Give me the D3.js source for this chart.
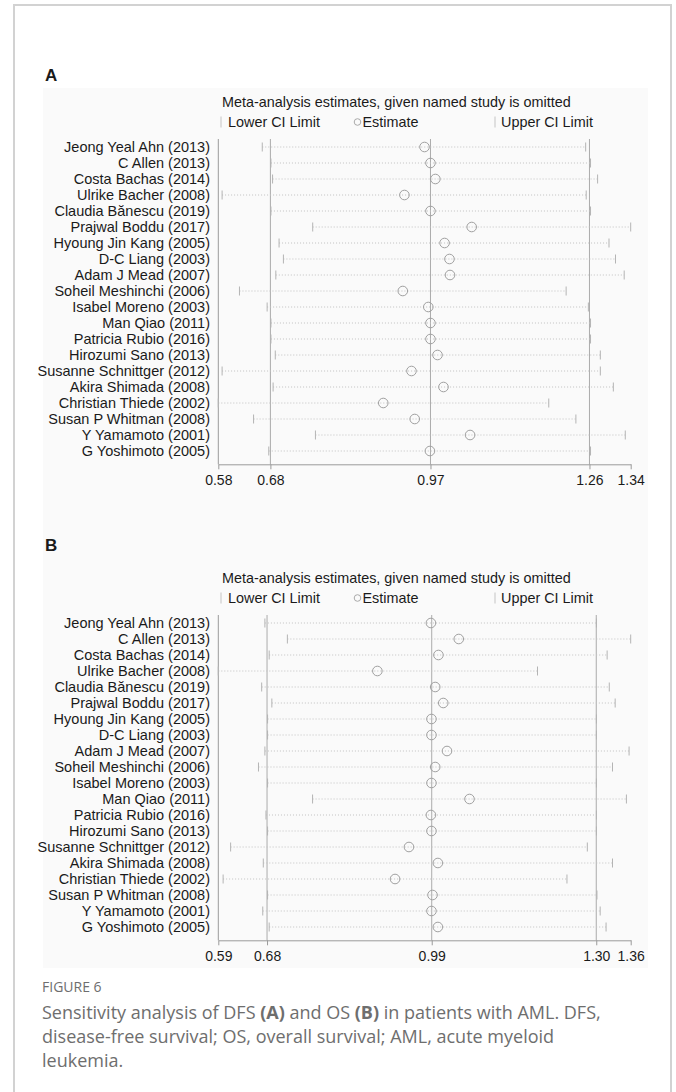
<!DOCTYPE html>
<html lang="en">
<head>
<meta charset="utf-8">
<title>Figure 6</title>
<style>
  body { margin: 0; background: #fff; }
  svg text { font-family: "Liberation Sans", Arial, sans-serif; fill: #1a1a1a; }
  .caption text { font-family: "Open Sans", sans-serif; fill: #6e6e6e; }
  .axis path, .axis line { stroke: #9a9a9a; }
  .axis text { font-size: 14px; }
</style>
</head>
<body>
<svg id="fig" width="676" height="1092"></svg>
<script src="https://d3js.org/d3.v7.min.js"></script>
<script>
// study names (same order in both panels)
var studies = [
  "Jeong Yeal Ahn (2013)", "C Allen (2013)", "Costa Bachas (2014)", "Ulrike Bacher (2008)",
  "Claudia Bănescu (2019)", "Prajwal Boddu (2017)", "Hyoung Jin Kang (2005)", "D-C Liang (2003)",
  "Adam J Mead (2007)", "Soheil Meshinchi (2006)", "Isabel Moreno (2003)", "Man Qiao (2011)",
  "Patricia Rubio (2016)", "Hirozumi Sano (2013)", "Susanne Schnittger (2012)", "Akira Shimada (2008)",
  "Christian Thiede (2002)", "Susan P Whitman (2008)", "Y Yamamoto (2001)", "G Yoshimoto (2005)"
];

// A: DFS
var dfsLower = [0.661, 0.677, 0.680, 0.587, 0.677, 0.754, 0.692, 0.700, 0.686, 0.619,
                0.670, 0.677, 0.677, 0.685, 0.587, 0.681, 0.580, 0.645, 0.759, 0.673];
var dfsEst   = [0.960, 0.971, 0.980, 0.923, 0.971, 1.047, 0.997, 1.006, 1.007, 0.920,
                0.967, 0.971, 0.971, 0.984, 0.936, 0.995, 0.884, 0.942, 1.044, 0.970];
var dfsUpper = [1.257, 1.266, 1.279, 1.258, 1.266, 1.340, 1.300, 1.312, 1.328, 1.221,
                1.262, 1.266, 1.266, 1.284, 1.284, 1.308, 1.189, 1.239, 1.330, 1.266];
var dfsTicks = [0.58, 0.676, 0.971, 1.264, 1.34];

// B: OS
var osLower = [0.677, 0.719, 0.685, 0.590, 0.671, 0.690, 0.682, 0.682, 0.677, 0.665,
               0.682, 0.766, 0.679, 0.682, 0.613, 0.674, 0.599, 0.682, 0.673, 0.685];
var osEst   = [0.987, 1.039, 1.001, 0.887, 0.995, 1.010, 0.988, 0.988, 1.017, 0.995,
               0.988, 1.059, 0.987, 0.988, 0.946, 1.000, 0.920, 0.990, 0.988, 1.000];
var osUpper = [1.296, 1.360, 1.316, 1.186, 1.320, 1.331, 1.296, 1.296, 1.357, 1.326,
               1.296, 1.352, 1.296, 1.296, 1.279, 1.326, 1.241, 1.297, 1.303, 1.314];
var osTicks = [0.59, 0.681, 0.9885, 1.2957, 1.36];

var svg = d3.select("#fig");

// card border
svg.append("rect")
  .attr("x", 14).attr("y", 5).attr("width", 657).attr("height", 1200)
  .attr("fill", "#fff").attr("stroke", "#d2d2d2").attr("stroke-width", 2);

// figure background
svg.append("rect")
  .attr("x", 43).attr("y", 88).attr("width", 605).attr("height", 880)
  .attr("fill", "#fafafa");

function drawPanel(offset, letter, letterY, lower, est, upper, ticks) {
  var g = svg.append("g").attr("transform", "translate(0," + offset + ")");

  var x = d3.scaleLinear().domain([ticks[0], ticks[4]]).range([218.3, 630.7]);
  var y = d3.scalePoint().domain(studies).range([147, 451]);
  var top = 139, bottom = 464.3;

  g.append("text")
    .attr("x", 45).attr("y", letterY).attr("dy", "0.36em")
    .style("font-size", "17px").style("font-weight", "bold")
    .text(letter);

  g.append("text")
    .attr("x", 222).attr("y", 102).attr("dy", "0.36em")
    .style("font-size", "14.4px")
    .text("Meta-analysis estimates, given named study is omitted");

  // legend
  var ly = 122;
  g.append("line").attr("x1", 221).attr("x2", 221).attr("y1", ly - 5.5).attr("y2", ly + 5.5)
    .attr("stroke", "#c4c4c4");
  g.append("text").attr("x", 228).attr("y", ly).attr("dy", "0.36em")
    .style("font-size", "14.4px").text("Lower CI Limit");
  g.append("circle").attr("cx", 357.5).attr("cy", ly).attr("r", 3.3)
    .attr("fill", "none").attr("stroke", "#aaa");
  g.append("text").attr("x", 362.5).attr("y", ly).attr("dy", "0.36em")
    .style("font-size", "14.4px").text("Estimate");
  g.append("line").attr("x1", 495).attr("x2", 495).attr("y1", ly - 5.5).attr("y2", ly + 5.5)
    .attr("stroke", "#c4c4c4");
  g.append("text").attr("x", 501).attr("y", ly).attr("dy", "0.36em")
    .style("font-size", "14.4px").text("Upper CI Limit");

  // study labels
  g.selectAll(".lab").data(studies).enter().append("text")
    .attr("class", "lab")
    .attr("x", 210).attr("y", function(d) { return y(d); }).attr("dy", "0.36em")
    .attr("text-anchor", "end")
    .style("font-size", "14.5px")
    .text(function(d) { return d; });

  // left axis line and reference lines
  g.append("line").attr("x1", x(ticks[0])).attr("x2", x(ticks[0]))
    .attr("y1", top).attr("y2", bottom).attr("stroke", "#9a9a9a");
  g.selectAll(".ref").data(ticks.slice(1, 4)).enter().append("line")
    .attr("class", "ref")
    .attr("x1", function(d) { return x(d); }).attr("x2", function(d) { return x(d); })
    .attr("y1", top).attr("y2", bottom)
    .attr("stroke", "#ababab");

  var rows = studies.map(function(s, i) {
    return { name: s, lo: lower[i], est: est[i], hi: upper[i] };
  });

  var r = g.selectAll(".row").data(rows).enter().append("g")
    .attr("class", "row")
    .attr("transform", function(d) { return "translate(0," + y(d.name) + ")"; });

  r.append("line")
    .attr("x1", function(d) { return x(d.lo); })
    .attr("x2", function(d) { return x(d.hi); })
    .attr("stroke", "#c2c2c2").attr("stroke-dasharray", "1,2");
  r.append("line")
    .attr("x1", function(d) { return x(d.lo); }).attr("x2", function(d) { return x(d.lo); })
    .attr("y1", -4.5).attr("y2", 4.5).attr("stroke", "#b4b4b4");
  r.append("line")
    .attr("x1", function(d) { return x(d.hi); }).attr("x2", function(d) { return x(d.hi); })
    .attr("y1", -4.5).attr("y2", 4.5).attr("stroke", "#b4b4b4");
  r.append("circle")
    .attr("cx", function(d) { return x(d.est); })
    .attr("r", 4.8)
    .attr("fill", "none").attr("stroke", "#a0a0a0");

  // x axis
  g.append("g")
    .attr("class", "axis")
    .attr("transform", "translate(0," + bottom + ")")
    .call(d3.axisBottom(x).tickValues(ticks).tickFormat(d3.format(".2f"))
      .tickSize(5).tickSizeOuter(0).tickPadding(6))
    .call(function(a) { a.selectAll("text").style("fill", "#1a1a1a").attr("font-family", null); });
}

drawPanel(0, "A", 75, dfsLower, dfsEst, dfsUpper, dfsTicks);
drawPanel(476, "B", 69, osLower, osEst, osUpper, osTicks);

// caption
var cap = svg.append("g").attr("class", "caption");
cap.append("text").attr("x", 42).attr("y", 987).attr("dy", "0.36em")
  .style("font-size", "14px").text("FIGURE 6");
var lines = [
  [["Sensitivity analysis of DFS ", false], ["(A)", true], [" and OS ", false], ["(B)", true],
   [" in patients with AML. DFS,", false]],
  [["disease-free survival; OS, overall survival; AML, acute myeloid", false]],
  [["leukemia.", false]]
];
lines.forEach(function(parts, i) {
  var t = cap.append("text").attr("x", 42).attr("y", 1013 + i * 24).attr("dy", "0.36em")
    .style("font-size", "18px");
  parts.forEach(function(p) {
    t.append("tspan").style("font-weight", p[1] ? "bold" : "normal").text(p[0]);
  });
});
</script>
</body>
</html>
